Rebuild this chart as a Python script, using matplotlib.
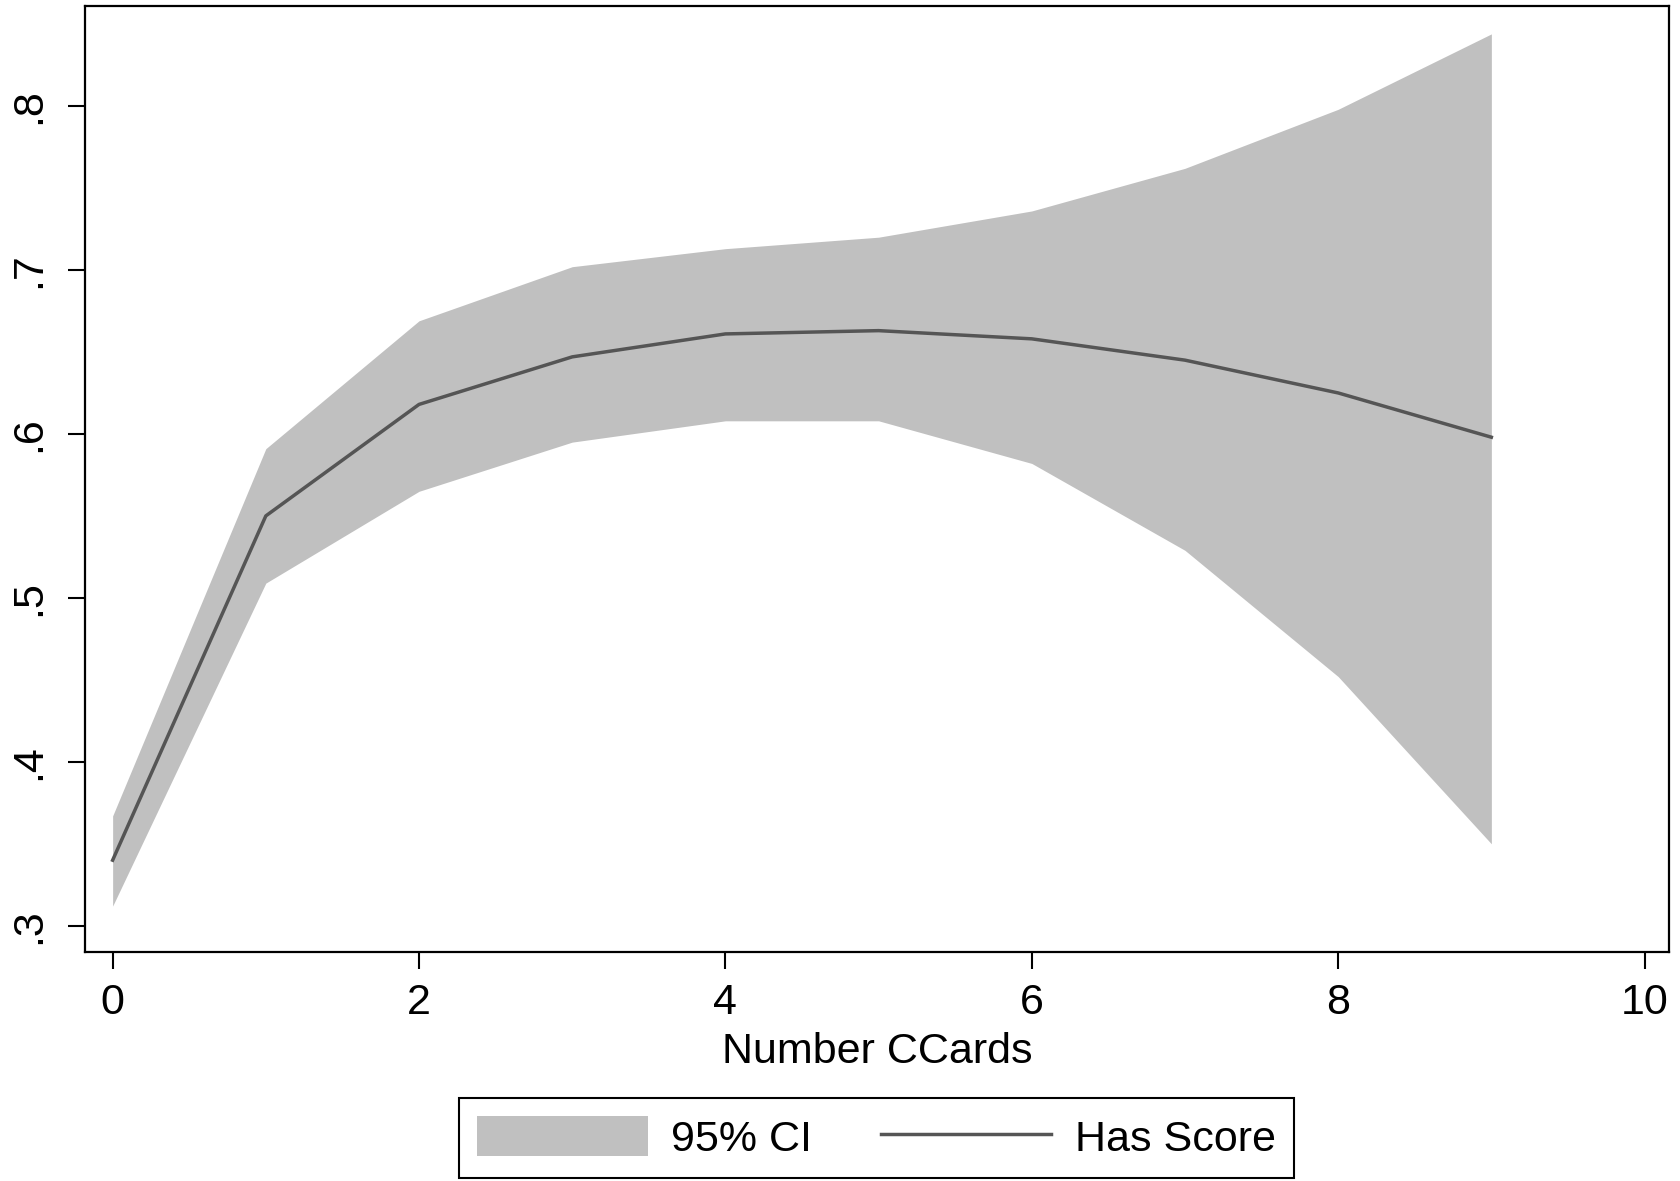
import numpy as np
import matplotlib
matplotlib.use("Agg")
import matplotlib.pyplot as plt
from matplotlib.patches import Patch
from matplotlib.lines import Line2D

plt.rcParams['font.family'] = ['Liberation Sans', 'DejaVu Sans']

# data
ccards = [0, 1, 2, 3, 4, 5, 6, 7, 8, 9]
has_score = [0.340, 0.550, 0.618, 0.647, 0.661, 0.663, 0.658, 0.645, 0.625, 0.598]
ci_upper = [0.367, 0.591, 0.669, 0.702, 0.713, 0.720, 0.736, 0.762, 0.798, 0.844]
ci_lower = [0.312, 0.509, 0.565, 0.595, 0.608, 0.608, 0.582, 0.529, 0.452, 0.350]
x_ticks = [0, 2, 4, 6, 8, 10]
y_ticks = [0.3, 0.4, 0.5, 0.6, 0.7, 0.8]
y_labels = ['.3', '.4', '.5', '.6', '.7', '.8']

fill_col = '#c0c0c0'
line_col = '#555555'

fig = plt.figure(figsize=(16.81, 11.81), dpi=100)
ax = fig.add_axes([0.0506, 0.1939, 0.9423, 0.801])

ax.fill_between(ccards, ci_lower, ci_upper, color=fill_col, lw=0)
ax.plot(ccards, has_score, color=line_col, lw=2.5)

ax.set_xlim(-0.18, 10.16)
ax.set_ylim(0.284, 0.861)
ax.set_xticks(x_ticks)
ax.set_yticks(y_ticks)
ax.set_yticklabels(y_labels, rotation=90, va='center')

for s in ax.spines.values():
    s.set_linewidth(1.6)
    s.set_color('black')

ax.tick_params(axis='both', direction='out', length=12, width=1.5, labelsize=31, color='black')
ax.tick_params(axis='x', pad=10)
ax.tick_params(axis='y', pad=14)

ax.set_xlabel('Number CCards', fontsize=31, labelpad=7)

handles = [Patch(facecolor=fill_col, edgecolor='none'),
           Line2D([0], [0], color=line_col, lw=2.5)]
leg = fig.legend(handles, ['95% CI', 'Has Score'], ncol=2, loc='center',
                 bbox_to_anchor=(0.5215, 0.0364), fontsize=31,
                 fancybox=False, framealpha=1, edgecolor='black',
                 handlelength=3.95, handleheight=1.05, handletextpad=0.55,
                 columnspacing=1.6, borderpad=0.42, borderaxespad=0)
leg.get_frame().set_linewidth(1.5)

fig.savefig('out.png', dpi=100)
